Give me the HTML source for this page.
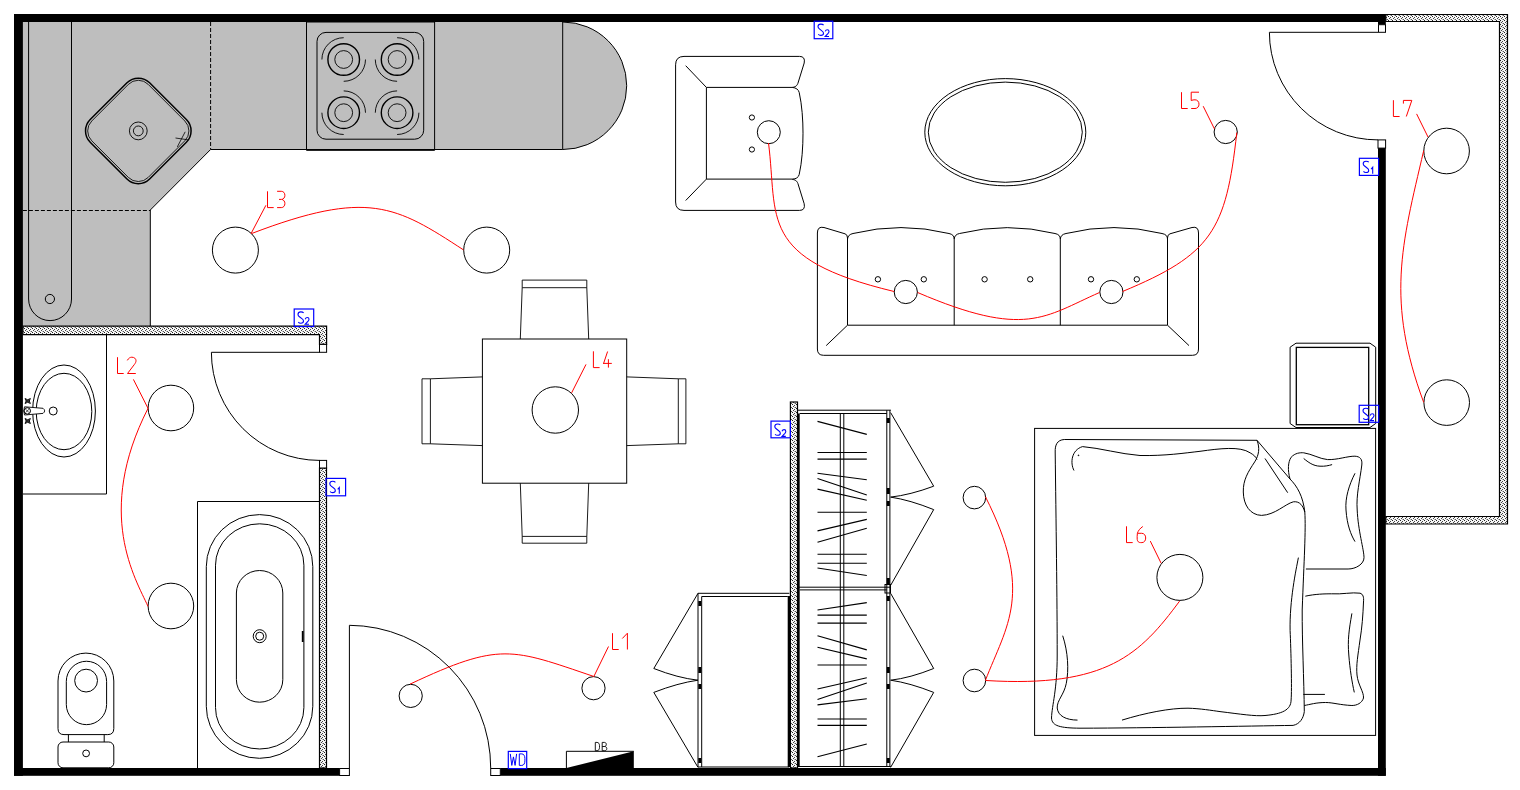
<!DOCTYPE html>
<html><head><meta charset="utf-8"><title>Floor plan</title>
<style>html,body{margin:0;padding:0;background:#fff;width:1520px;height:790px;overflow:hidden}svg{display:block;font-family:"Liberation Sans",sans-serif}</style>
</head><body>
<svg width="1520" height="790" viewBox="0 0 1520 790">
<defs>
<pattern id="h" width="4" height="4" patternUnits="userSpaceOnUse">
<rect width="4" height="4" fill="#f6f6f6"/>
<rect x="0" y="0" width="1" height="1" fill="#222"/>
<rect x="2" y="1" width="1" height="1" fill="#444"/>
<rect x="1" y="2" width="1" height="1" fill="#444"/>
<rect x="3" y="3" width="1" height="1" fill="#555"/>
<rect x="2" y="3" width="1" height="1" fill="#bbb"/>
</pattern>
</defs>
<g fill="none" stroke="#000" stroke-width="1">
<!-- KITCHEN -->
<path d="M22.5,22 H562.7 A64,63.75 0 0 1 562.7,149.5 H210.6 L150.3,210 V326.3 H22.5 Z" fill="#bebebe" stroke="none"/>
<path d="M562.7,22 A64,63.75 0 0 1 562.7,149.5 H210.6 L150.3,210 V326.3"/>
<path d="M562.7,22 V149.5"/>
<path d="M28.6,22 V299 A21.45,21.6 0 0 0 71.5,299 V22"/>
<circle cx="49.9" cy="299" r="4.6"/>
<path d="M210.6,22 V149.5 M22.9,210.5 H150.3" stroke-dasharray="4,2"/>
<rect x="306.5" y="22" width="128.1" height="127.9"/>
<path d="M306.5,149.9 H434.6" stroke-width="1.6"/>
<rect x="317" y="32.4" width="106.7" height="106.8" rx="9" ry="9"/>
<g stroke-width="1.4">
<circle cx="343.7" cy="59.5" r="15.8"/><circle cx="397.1" cy="59.5" r="15.8"/>
<circle cx="343.7" cy="112.7" r="15.8"/><circle cx="397.1" cy="112.7" r="15.8"/>
</g>
<g stroke-width="0.9">
<circle cx="343.7" cy="59.5" r="8.9"/><circle cx="397.1" cy="59.5" r="8.9"/>
<circle cx="343.7" cy="112.7" r="8.9"/><circle cx="397.1" cy="112.7" r="8.9"/>
<path d="M321.9,59.5 A21.8,21.8 0 0 1 343.7,37.7 M365.5,59.5 A21.8,21.8 0 0 1 343.7,81.3"/>
<path d="M397.1,37.7 A21.8,21.8 0 0 1 418.9,59.5 M397.1,81.3 A21.8,21.8 0 0 1 375.3,59.5"/>
<path d="M343.7,90.9 A21.8,21.8 0 0 1 365.5,112.7 M343.7,134.5 A21.8,21.8 0 0 1 321.9,112.7"/>
<path d="M375.3,112.7 A21.8,21.8 0 0 1 397.1,90.9 M418.9,112.7 A21.8,21.8 0 0 1 397.1,134.5"/>
</g>
<g transform="translate(138.3,130.9) rotate(45)">
<rect x="-42" y="-42" width="84" height="84" rx="16" ry="16" stroke-width="1.5"/>
<rect x="-39.9" y="-39.9" width="79.8" height="79.8" rx="14" ry="14" stroke-width="0.8"/>
</g>
<circle cx="138.3" cy="130.9" r="8.9" stroke-width="0.9"/>
<circle cx="138.3" cy="130.9" r="4.9" stroke-width="0.9"/>
<path d="M175.5,138 L187.9,139.8 M177.3,146.9 L185.2,131.8" stroke-width="0.8"/>
</g>
<!-- WALLS -->
<g fill="#000" stroke="none">
<rect x="14" y="14" width="1371.8" height="8"/>
<rect x="14" y="14" width="8.9" height="761.8"/>
<rect x="14" y="768" width="325.6" height="7.8"/>
<rect x="500.3" y="768" width="885.5" height="7.8"/>
<rect x="1378" y="148" width="7.8" height="627.8"/>
<rect x="1378" y="14" width="7.8" height="10.7"/>
<path d="M566.4,768 L633.8,751.3 V768 Z"/>
</g>
<g fill="url(#h)" stroke="#000" stroke-width="1.2">
<path d="M22.9,326.1 H326.6 V344.4 H319.5 V334.6 H22.9 Z"/>
<rect x="319.5" y="468" width="7" height="300"/>
<rect x="790.4" y="402" width="7.1" height="366"/>
<path d="M1385.8,14.5 H1507.5 V524 H1385.8 V516.5 H1499.5 V21.5 H1385.8 Z"/>
</g>
<g fill="#fff" stroke="#000" stroke-width="1">
<rect x="319.5" y="344.4" width="7.1" height="7.9"/>
<rect x="319.5" y="460.4" width="7.1" height="7.6"/>
<rect x="339.6" y="768.5" width="9.8" height="7"/>
<rect x="490.7" y="768.5" width="9.6" height="7"/>
<rect x="1378.5" y="24.7" width="7" height="7.6"/>
<rect x="1378" y="139.9" width="7.6" height="8.2"/>
</g>
<path d="M566.4,768 V751.3 H633.8" fill="none" stroke="#000" stroke-width="1"/>
<g fill="none" stroke="#000" stroke-width="1">
<!-- BATH -->
<path d="M106.5,334.6 V494 H22.9"/>
<ellipse cx="64" cy="411" rx="31.4" ry="46"/>
<ellipse cx="64" cy="411.5" rx="27.8" ry="38.2"/>
<circle cx="53.2" cy="411" r="4"/>
<path d="M24.5,406.8 L43,408.3 Q46.3,410.9 43,413.4 L24.5,415 Q22.9,411 24.5,406.8 Z" fill="#fff" stroke-width="0.9"/>
<circle cx="27.3" cy="410.9" r="3.2" stroke-width="1"/>
<path d="M25.5,409.1 L29.1,412.7 M29.1,409.1 L25.5,412.7" stroke-width="0.7"/>
<path d="M25,398.5 Q27.7,401 30.4,398.5 Q28.2,401 30.4,403.5 Q27.7,401 25,403.5 Q27.2,401 25,398.5 Z M25,418.5 Q27.7,421 30.4,418.5 Q28.2,421 30.4,423.5 Q27.7,421 25,423.5 Q27.2,421 25,418.5 Z" fill="#333" stroke-width="0.9"/>
<path d="M211.4,352.3 H319.5 M211.4,352.3 A108.1,108.1 0 0 0 319.5,460.4"/>
<path d="M197.5,768 V501.5 H319.5"/>
<path d="M206.3,566.6 A53.25,52 0 0 1 312.8,566.6 V706.3 A53.25,52 0 0 1 206.3,706.3 Z"/>
<path d="M215.5,565.2 A44.2,41.4 0 0 1 303.9,565.2 V707.6 A44.2,41.4 0 0 1 215.5,707.6 Z"/>
<path d="M236.4,593 A23.2,22.5 0 0 1 282.8,593 V679.7 A23.2,22.5 0 0 1 236.4,679.7 Z"/>
<circle cx="259.7" cy="636.2" r="6.5"/>
<circle cx="259.7" cy="636.2" r="4"/>
<path d="M302.7,631 V642" stroke-width="1.8"/>
<path d="M58,728.6 V681 A27.9,27.9 0 0 1 113.8,681 V728.6 Q113.8,734.6 107.8,734.6 H64 Q58,734.6 58,728.6 Z"/>
<path d="M66.3,704.5 V681.4 A20.15,20.15 0 0 1 106.6,681.4 V704.5 A20.15,20.15 0 0 1 66.3,704.5 Z"/>
<circle cx="86.1" cy="680.6" r="11.4"/>
<path d="M68.4,734.6 V742 M104.2,734.6 V742"/>
<rect x="58" y="742" width="55.8" height="25.8" rx="5" ry="5"/>
<circle cx="86.1" cy="753.4" r="3.4"/>
<path d="M349.4,768 V625.3 A142,142.7 0 0 1 490.7,768"/>
<path d="M1378,32.3 H1269.4 A108.6,107.6 0 0 0 1378,139.9"/>
<!-- LIVING -->
<path d="M792.3,87.4 C796.5,87 797.5,84.5 798,83 L804.2,63 Q805.5,56.4 799.5,56.4 H684 Q675.6,56.4 675.6,64.8 V202 Q675.6,210.4 684,210.4 H799.5 Q805.5,210.4 804.2,203.8 L798,183.8 C797.5,182.3 796.5,179.8 792.3,179.4"/>
<path d="M792.3,87.4 H706.4 V179.1 H792.3 M792.3,87.4 Q798,88 799.2,92.4 C802,105 803,120 803,133.2 C803,147 802,162 799.2,174.5 Q798,179 792.3,179.1"/>
<path d="M706.4,87.4 L685.7,65.7 M706.4,179.1 L685.7,200.5"/>
<circle cx="751.9" cy="117.5" r="2.6"/><circle cx="751.9" cy="149.5" r="2.6"/>
<ellipse cx="1005.3" cy="132.2" rx="80.5" ry="53.6"/>
<ellipse cx="1005.3" cy="132.2" rx="77" ry="50.1"/>
<path d="M847.5,240 V238 Q847.5,234.5 845,233.8 L824,227.5 Q817.4,226 817.4,233 V349 Q817.4,355.3 823.5,355.3 H1192.5 Q1198.5,355.3 1198.5,349 V233 Q1198.5,226 1192,227.5 L1170,233.8 Q1167.5,234.5 1167.5,238 V240"/>
<path d="M847.5,238 V325.2 H1167.5 V238 M954.2,239 V325.2 M1060.3,239 V325.2"/>
<path d="M847.5,239 Q848,234.5 853,233.5 A200,200 0 0 1 949,233.5 Q954.2,234.5 954.2,239 Q954.6,234.5 959.5,233.5 A200,200 0 0 1 1055,233.5 Q1060.3,234.5 1060.3,239 Q1060.7,234.5 1066,233.5 A200,200 0 0 1 1162,233.5 Q1167.5,234.5 1167.5,239"/>
<path d="M847.5,325.2 L826.2,345.6 M1167.5,325.2 L1189,345.6"/>
<circle cx="877.9" cy="279.3" r="2.7"/><circle cx="923.8" cy="279.3" r="2.7"/>
<circle cx="984.6" cy="279.3" r="2.7"/><circle cx="1030.2" cy="279.3" r="2.7"/>
<circle cx="1091" cy="279.3" r="2.7"/><circle cx="1136.8" cy="279.3" r="2.7"/>
<rect x="482.4" y="339" width="144.3" height="144.2"/>
<path d="M522.2,280.1 H586.8 V287.7 H522.2 Z M522.2,287.7 L520.3,339 M586.8,287.7 L588.7,339" stroke-width="0.9"/>
<path d="M522.2,536.4 H586.8 V543.2 H522.2 Z M520.3,483.2 L522.2,536.4 M588.7,483.2 L586.8,536.4" stroke-width="0.9"/>
<path d="M422,378.8 V443.8 H430.4 V378.8 Z M430.4,378.8 L482.4,376.9 M430.4,443.8 L482.4,445.6" stroke-width="0.9"/>
<path d="M678.3,378.8 V443.8 H685.9 V378.8 Z M626.7,376.9 L678.3,378.8 M626.7,445.6 L678.3,443.8" stroke-width="0.9"/>
<path d="M1296,343.2 H1370 L1375.7,347.2 V423.5 L1370,427.5 H1296 L1290.1,423.5 V347.2 Z"/>
<rect x="1296.3" y="347.4" width="72.4" height="77.3" stroke-width="1.3"/>
<!-- WARDROBE -->
<path d="M817.5,421.4 L866.8,434.4 M817.5,452.5 L866.8,452.5 M817.5,459.1 L866.8,459.1 M817.5,473.2 L866.8,479.8 M817.5,478.5 L866.8,495 M817.5,489.1 L866.8,500.3 M817.5,512.3 L866.8,512.3 M817.5,530.9 L866.8,519.4 M817.5,542.3 L866.8,528.2 M817.5,554.3 L866.8,554.3 M817.5,563.3 L866.8,563.3 M817.5,568 L866.8,575.5 M817.5,610 L866.8,602.6 M817.5,615.1 L866.8,615.1 M817.5,623.1 L866.8,623.1 M817.5,635.8 L866.8,649.9 M817.5,647.2 L866.8,658.9 M817.5,665 L866.8,665 M817.5,689 L866.8,677.8 M817.5,699.6 L866.8,683.1 M817.5,704.9 L866.8,698.8 M817.5,719 L866.8,719 M817.5,725.4 L866.8,725.4 M817.5,756.7 L866.8,744" stroke-width="1.1"/>
<rect x="885" y="584.5" width="5.5" height="8.5" fill="#fff"/>
<path d="M797.5,410.2 H890.9 M799.7,413.5 H886.8 M797.5,587.2 H890.9 M799.7,589.9 H886.8 M797.5,766.5 H890.9"/>
<path d="M840.3,413.5 V766.5 M843.8,413.5 V766.5"/>
<path d="M886.8,410.2 V766.5 M889.9,410.2 V766.5"/>
<path d="M798.7,413.5 V766.5" stroke-width="2"/>
<path d="M888.3,418 V423 M888.3,488 V494 M888.3,501 V506 M888.3,578 V584 M888.3,596 V601 M888.3,667 V673 M888.3,684 V689 M888.3,758 V763" stroke-width="3"/>
<path d="M890.6,412.6 L933.7,486.2 Q910,495 890.6,497.1 Q910,500 933.7,509.6 L890.6,585.4"/>
<path d="M890.6,593.3 L933.7,668.5 Q910,678 890.6,680.2 Q910,683 933.7,692.4 L890.6,767.4"/>
<path d="M698,767 V593.3 H789.4 M701.7,767 V596.5 H787.8 M698,767 H789"/>
<path d="M789,596 V767" stroke-width="2.6"/>
<path d="M699.8,601 V606 M699.8,667 V673 M699.8,684 V689 M699.8,758 V763" stroke-width="3"/>
<path d="M698,593.3 L653.8,668.5 Q678,678 698,680.2 Q678,683 653.8,692.4 L698,767.4"/>
<!-- BED -->
<rect x="1034.6" y="428.4" width="341" height="307"/>
<g stroke-width="1">
<path d="M1257,440.3 L1064.3,439.5 C1057,440 1055,445 1055.2,452 C1056,520 1057.2,600 1057.2,655 C1057.2,690 1052,705 1051.5,718 C1052,726 1060,728 1080,728.2 C1150,728 1250,726 1293.1,725.4 C1300,724 1303.5,718 1304.3,711.6 C1304,680 1302,640 1302.2,610 C1304,560 1306,530 1304.8,512 C1303,496 1297,486 1290,479 Z"/>
<path d="M1257,440.3 C1260,448 1259,455 1254.7,461.9 C1248,472 1243,480 1243.3,492 C1243.5,505 1250,515 1261.5,515.4 C1275,515 1285,504 1293.4,501.8 C1300,501 1303,506 1304.8,512"/>
<path d="M1265,458.5 L1287.7,492.7"/>
<path d="M1074,470.5 C1070,463 1071.4,450 1082.5,446.6 C1100,448 1120,454 1140,455.5 C1165,456 1185,453 1200,451.3 C1220,448.5 1240,446 1250.1,452.8 C1254,455 1256,457 1257,459.6"/>
<path d="M1062.7,635.7 C1068,652 1069,670 1066.3,683.3 C1064,695 1057,700 1057.2,708 C1058,716 1066,720 1077.5,720.1"/>
<path d="M1122,720.1 C1145,713 1170,708 1188,708.2 C1200,708.5 1212,710.5 1220,711.6 C1240,714 1255,716.5 1265,715.5 C1282,714 1291,710 1291.1,700 C1292,690 1291,650 1290.1,630.6 C1289.5,600 1296,570 1298.4,557.6"/>
<path d="M1291.1,457.3 C1295,453 1300,452.5 1303.7,452.8 C1312,454 1320,459 1327.6,459.6 C1337,460 1348,456 1354.9,456.2 C1360,456.5 1362.5,459 1361.8,465 C1360,480 1356,495 1357.2,510 C1358,530 1364,550 1364,557.6 C1364,564 1356,569 1348.1,569 H1305.9"/>
<path d="M1291.1,457.3 C1288,462 1287.5,470 1290,479"/>
<path d="M1303.7,458.5 C1308,462 1313,466 1320,466.2 C1325,466.5 1329,465.5 1332.1,464.6"/>
<path d="M1355,473.3 C1349,485 1345,498 1346,510 C1347,525 1351,535 1355,541.6"/>
<path d="M1305.3,596.2 C1315,594 1325,593.8 1331.6,593.8 C1342,594.5 1352,592 1360,593.2 C1363,594 1364,597 1363.5,602 C1363,615 1362,628 1360,640 C1358,655 1356,665 1357,675 C1358,685 1364,692 1363.5,698 C1362,703 1357,705.5 1351.9,705.5 C1340,705 1333,702.5 1325.5,702.5 C1316,702.5 1310,704.5 1304.3,705.5"/>
<path d="M1351.9,613.4 C1349,630 1347.5,640 1348.8,655 C1350,670 1352,682 1354.3,692.4"/>
<path d="M1303.3,694.4 H1324.9"/>
<circle cx="1078.5" cy="455.3" r="0.4" fill="#000"/>
</g>
<!-- LIGHTS -->
<path d="M 595.3 742.4 V 750.7 H 597.1 C 598.6 750.7 599.5 749.3 599.5 747.4 V 745.7 C 599.5 743.8 598.6 742.4 597.1 742.4 Z M 602.2 742.4 V 750.7 H 604.6 C 605.9 750.7 606.8 749.9 606.8 748.6 C 606.8 747.4 605.9 746.5 604.6 746.5 H 602.2 M 602.2 742.4 H 604.4 C 605.5 742.4 606.3 743.2 606.3 744.4 C 606.3 745.6 605.5 746.5 604.4 746.5" stroke-width="0.9"/>
<circle cx="170.9" cy="408" r="22.8"/>
<circle cx="170.9" cy="606" r="22.8"/>
<circle cx="235.4" cy="250.1" r="23"/>
<circle cx="486.7" cy="250.1" r="23"/>
<circle cx="555.3" cy="410" r="23.2"/>
<circle cx="410.7" cy="695.9" r="11.6"/>
<circle cx="593.5" cy="688.2" r="11.6"/>
<circle cx="1225.7" cy="132" r="11.6"/>
<circle cx="905.8" cy="292" r="11.6"/>
<circle cx="1111.4" cy="292" r="11.6"/>
<circle cx="768.8" cy="132.2" r="11.5"/>
<circle cx="1179.9" cy="577.4" r="23"/>
<circle cx="974.4" cy="497.6" r="11.3"/>
<circle cx="974.4" cy="680.5" r="11.3"/>
<circle cx="1446.6" cy="151" r="22.8"/>
<circle cx="1446.7" cy="402.6" r="22.8"/>
</g>
<g fill="none" stroke="#f00" stroke-width="1">
<path d="M612.5,633.2 V649.5 H618.7 M 622.3 638.5 L 627.4 633.2 V 649.5" stroke-width="1"/>
<path d="M117.5,357.2 V373.5 H123.7 M 127.3 360.4 C 128.5 358.2 130.1 357.2 131.8 357.2 C 134.3 357.2 136.0 358.7 136.0 360.7 C 136.0 362.2 135.3 363.2 134.5 364.3 L 127.5 373.5 H 135.8" stroke-width="1"/>
<path d="M267.5,191.3 V207.6 H273.7 M 277.1 191.3 H 281.3 C 283.5 191.3 284.9 193.1 284.9 195.3 C 284.9 197.6 283.5 199.4 281.3 199.4 H 279.0 M 282.0 199.4 C 283.9 200.1 284.9 201.6 284.9 203.5 C 284.9 205.8 283.5 207.6 281.3 207.6 H 277.1" stroke-width="1"/>
<path d="M593.4,351.3 V367.6 H599.6 M 607.6 351.5 L 603.6 363.4 M 603.0 363.4 H 611.8 M 608.4 359.2 V 367.6" stroke-width="1"/>
<path d="M1181.5,92.2 V108.5 H1187.7 M 1199.0 92.2 H 1191.2 V 100.5 C 1192.4 100.0 1193.7 99.8 1195.0 99.8 C 1197.4 99.8 1199.0 101.7 1199.0 104.2 C 1199.0 106.7 1197.4 108.5 1195.0 108.5 H 1191.2" stroke-width="1"/>
<path d="M1126.5,526.3 V542.6 H1132.7 M 1142.8 526.5 C 1140.1 528.3 1138.1 530.8 1137.4 533.3 C 1137.1 535.3 1137.1 537.3 1137.2 539.3 C 1137.4 541.5 1138.7 542.6 1140.6 542.6 H 1141.9 C 1144.1 542.6 1145.7 540.7 1145.7 538.0 C 1145.7 535.3 1144.1 533.3 1141.7 533.3 H 1137.4" stroke-width="1"/>
<path d="M1393.4,100.2 V116.5 H1399.6 M 1403.4 103.6 V 100.4 H 1411.8 L 1406.3 116.5" stroke-width="1"/>
<path d="M265.9,205.3 L251.2,233.3 M133.4,379.4 L148.1,408.5 M586,364.4 L571.6,392.9 M608.5,646.5 L593.7,676.8 M1203.2,106.2 L1214.4,128.8 M1150.3,541.1 L1161.1,563.2 M1416.6,113.9 L1428,137"/>
<path d="M251.4,233.6 C367.7,189.2 395.8,205.6 463.5,249.9"/>
<path d="M410.1,684.1 C500.3,641.6 511.7,648.6 593.6,676.4"/>
<path d="M768.5,143.0 C778.1,218.2 757.4,258.7 894.1,291.5"/>
<path d="M917.6,292.5 C1025.4,338.7 1044.5,316.8 1099.5,292.5"/>
<path d="M1122.5,291.5 C1211.5,254.5 1226.0,230.9 1236.8,132.5"/>
<path d="M148.0,408.4 C94.5,513.5 135.7,579.0 148.0,606.4"/>
<path d="M985.4,496.7 C1034.2,592.8 1006.7,625.3 985.4,680.4"/>
<path d="M985.8,680.5 C1107.3,687.9 1140.3,654.1 1179.6,601.1"/>
<path d="M1423.7,150.6 C1401.3,246.2 1386.0,300.4 1423.7,402.4"/>
</g>
<g fill="none" stroke="#00f" stroke-width="1.2">
<rect x="294.2" y="309" width="19.5" height="17.5"/><path d="M 303.60 312.90 C 303.00 312.20 301.90 311.90 300.80 311.90 C 299.20 311.90 298.00 312.90 298.00 314.40 C 298.00 315.30 298.50 316.00 299.40 316.70 L 302.20 318.90 C 303.00 319.50 303.50 320.30 303.50 321.10 C 303.50 322.40 302.30 323.20 300.80 323.20 C 299.70 323.20 298.80 322.80 298.30 322.10 M 305.20 319.20 C 305.60 318.10 306.40 317.50 307.30 317.50 C 308.30 317.50 309.00 318.30 309.00 319.30 C 309.00 320.00 308.60 320.60 308.10 321.20 L 305.20 324.30 H 309.00" stroke-width="1.1"/>
<rect x="326" y="478.4" width="19.6" height="17.4"/><path d="M 335.40 482.30 C 334.80 481.60 333.70 481.30 332.60 481.30 C 331.00 481.30 329.80 482.30 329.80 483.80 C 329.80 484.70 330.30 485.40 331.20 486.10 L 334.00 488.30 C 334.80 488.90 335.30 489.70 335.30 490.50 C 335.30 491.80 334.10 492.60 332.60 492.60 C 331.50 492.60 330.60 492.20 330.10 491.50 M 337.70 489.30 L 339.30 487.40 V 493.80" stroke-width="1.1"/>
<rect x="814.2" y="21.2" width="18.6" height="17.5"/><path d="M 823.60 25.10 C 823.00 24.40 821.90 24.10 820.80 24.10 C 819.20 24.10 818.00 25.10 818.00 26.60 C 818.00 27.50 818.50 28.20 819.40 28.90 L 822.20 31.10 C 823.00 31.70 823.50 32.50 823.50 33.30 C 823.50 34.60 822.30 35.40 820.80 35.40 C 819.70 35.40 818.80 35.00 818.30 34.30 M 825.20 31.40 C 825.60 30.30 826.40 29.70 827.30 29.70 C 828.30 29.70 829.00 30.50 829.00 31.50 C 829.00 32.20 828.60 32.80 828.10 33.40 L 825.20 36.50 H 829.00" stroke-width="1.1"/>
<rect x="1359.4" y="158.3" width="19.2" height="17.1"/><path d="M 1368.80 162.20 C 1368.20 161.50 1367.10 161.20 1366.00 161.20 C 1364.40 161.20 1363.20 162.20 1363.20 163.70 C 1363.20 164.60 1363.70 165.30 1364.60 166.00 L 1367.40 168.20 C 1368.20 168.80 1368.70 169.60 1368.70 170.40 C 1368.70 171.70 1367.50 172.50 1366.00 172.50 C 1364.90 172.50 1364.00 172.10 1363.50 171.40 M 1371.10 169.20 L 1372.70 167.30 V 173.70" stroke-width="1.1"/>
<rect x="771" y="421.1" width="19.4" height="16.7"/><path d="M 780.40 425.00 C 779.80 424.30 778.70 424.00 777.60 424.00 C 776.00 424.00 774.80 425.00 774.80 426.50 C 774.80 427.40 775.30 428.10 776.20 428.80 L 779.00 431.00 C 779.80 431.60 780.30 432.40 780.30 433.20 C 780.30 434.50 779.10 435.30 777.60 435.30 C 776.50 435.30 775.60 434.90 775.10 434.20 M 782.00 431.30 C 782.40 430.20 783.20 429.60 784.10 429.60 C 785.10 429.60 785.80 430.40 785.80 431.40 C 785.80 432.10 785.40 432.70 784.90 433.30 L 782.00 436.40 H 785.80" stroke-width="1.1"/>
<rect x="1359.2" y="405.3" width="19.5" height="17"/><path d="M 1368.60 409.20 C 1368.00 408.50 1366.90 408.20 1365.80 408.20 C 1364.20 408.20 1363.00 409.20 1363.00 410.70 C 1363.00 411.60 1363.50 412.30 1364.40 413.00 L 1367.20 415.20 C 1368.00 415.80 1368.50 416.60 1368.50 417.40 C 1368.50 418.70 1367.30 419.50 1365.80 419.50 C 1364.70 419.50 1363.80 419.10 1363.30 418.40 M 1370.20 415.50 C 1370.60 414.40 1371.40 413.80 1372.30 413.80 C 1373.30 413.80 1374.00 414.60 1374.00 415.60 C 1374.00 416.30 1373.60 416.90 1373.10 417.50 L 1370.20 420.60 H 1374.00" stroke-width="1.1"/>
<rect x="508.3" y="751.4" width="18.4" height="17.2"/>
<path d="M 510.30 753.90 L 511.80 765.40 L 513.45 756.90 L 515.10 765.40 L 516.60 753.90 M 519.30 753.90 V 765.40 H 521.80 C 523.80 765.40 524.90 763.40 524.90 760.90 V 758.40 C 524.90 755.90 523.80 753.90 521.80 753.90 Z" stroke-width="1"/>
</g>
</svg>
</body></html>
